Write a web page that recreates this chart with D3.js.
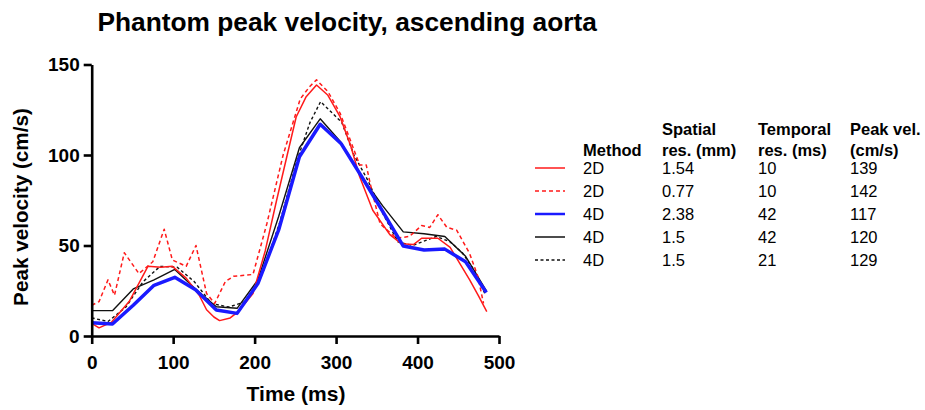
<!DOCTYPE html>
<html>
<head>
<meta charset="utf-8">
<script src="https://cdn.jsdelivr.net/npm/d3@7"></script>
<style>
  body { margin: 0; background: #fff; }
  svg { display: block; font-family: "Liberation Sans", Arial, sans-serif; }
</style>
</head>
<body>
<svg id="chart" width="925" height="410"></svg>
<script>
// Data (time in ms, peak velocity in cm/s)
const red2dTime = [0, 9, 24, 46, 69, 85, 99, 116, 132, 141, 150, 157, 170, 180, 198, 213, 227, 240, 251, 263, 276, 290, 305, 318, 329, 345, 366, 380, 395, 405, 425, 440, 452, 464, 475, 485];
const red2dVel  = [7, 4.5, 7.5, 19, 38.5, 38, 38.5, 32, 22.5, 14.5, 10.5, 8.5, 10, 13.5, 23.5, 47, 75, 100, 121, 132, 138.7, 133, 121, 105, 88, 69.5, 56, 51, 50.5, 54, 54, 49, 40, 31, 22, 13.5];

const red2dFineTime = [0, 9, 20, 28, 40, 58, 75, 89, 99, 116, 128, 141, 151, 164, 174, 198, 215, 235, 256, 268, 276, 290, 305, 329, 337, 342, 354, 374, 390, 405, 415, 425, 436, 448, 464, 474, 481];
const red2dFineVel  = [17, 19, 31, 22.5, 46, 34.5, 41, 59, 42, 38.5, 50, 23.5, 18, 30, 33, 34, 62, 100, 131, 138, 141.5, 135, 123, 94.5, 94.5, 84, 62, 54, 55, 61, 60, 67, 60, 58.5, 45.5, 33, 18];

const frames4d = [0, 25.5, 51, 76.5, 102, 127.5, 153, 178.5, 204, 229.5, 255, 280.5, 306, 331.5, 357, 382.5, 408, 433.5, 459, 484.5];
const blue4dVel  = [7.3, 6.6, 17, 28, 32.4, 25.5, 14.4, 12.5, 29, 58.6, 99, 117, 106.4, 88, 69, 49.7, 47.5, 48, 41, 24];
const black4dVel = [14, 14, 26, 31, 36.8, 26, 16.2, 15.3, 31, 66, 104, 120, 107, 88, 72, 57.5, 56.5, 55, 44, 25];

const black4dFineTime = [0, 20, 42, 63, 84, 105, 126, 147, 168, 189, 210, 231, 252, 268, 281, 307, 322, 339, 357, 376, 394, 423, 440, 455, 470, 483];
const black4dFineVel  = [10, 8, 16, 30, 38.5, 38, 30, 18, 16, 19, 35, 63, 97, 118, 129.5, 118, 100, 86, 68, 52, 50, 55, 52, 46, 36, 23];

const xTicks = [0, 100, 200, 300, 400, 500];
const yTicks = [0, 50, 100, 150];

const legendHeaders = [["Method"], ["Spatial", "res. (mm)"], ["Temporal", "res. (ms)"], ["Peak vel.", "(cm/s)"]];
const methods = ["2D", "2D", "4D", "4D", "4D"];
const spatialRes = ["1.54", "0.77", "2.38", "1.5", "1.5"];
const temporalRes = ["10", "10", "42", "42", "21"];
const peakVel = ["139", "142", "117", "120", "129"];

const series = [
  { t: red2dTime, v: red2dVel, color: "#ff1a1a", width: 1.5, dash: null },
  { t: red2dFineTime, v: red2dFineVel, color: "#ff1a1a", width: 1.5, dash: "4,3" },
  { t: frames4d, v: blue4dVel, color: "#1a1aff", width: 3.5, dash: null },
  { t: frames4d, v: black4dVel, color: "#111", width: 1.4, dash: null },
  { t: black4dFineTime, v: black4dFineVel, color: "#111", width: 1.4, dash: "3,2.5" }
];

const svg = d3.select("#chart");

const x = d3.scaleLinear().domain([0, 500]).range([91.7, 499]);
const y = d3.scaleLinear().domain([0, 150]).range([336, 64.5]);

// Title
svg.append("text")
  .attr("x", 97.5)
  .attr("y", 31)
  .attr("font-size", 26.3)
  .attr("font-weight", "bold")
  .text("Phantom peak velocity, ascending aorta");

// Lines (drawn first so axes sit on top)
const line = d3.line().x((d) => x(d[0])).y((d) => y(d[1]));
const plotOrder = [4, 3, 1, 0, 2];
plotOrder.forEach((i) => {
  const s = series[i];
  svg.append("path")
    .datum(s.t.map((t, k) => [t, s.v[k]]))
    .attr("fill", "none")
    .attr("stroke", s.color)
    .attr("stroke-width", s.width)
    .attr("stroke-dasharray", s.dash)
    .attr("stroke-linejoin", "round")
    .attr("d", line);
});

// Axes
const xAxis = svg.append("g")
  .attr("transform", `translate(0,${y(0)})`)
  .call(d3.axisBottom(x).tickValues(xTicks).tickSize(8).tickSizeOuter(0).tickPadding(12));

const yAxis = svg.append("g")
  .attr("transform", `translate(${x(0)},0)`)
  .call(d3.axisLeft(y).tickValues(yTicks).tickSize(8).tickSizeOuter(0).tickPadding(4));

[xAxis, yAxis].forEach((g) => {
  g.select(".domain").attr("stroke", "#000").attr("stroke-width", 2.6);
  g.selectAll(".tick line").attr("stroke", "#000").attr("stroke-width", 2.6);
  g.selectAll(".tick text")
    .attr("fill", "#000")
    .attr("font-size", 19)
    .attr("font-weight", "bold")
    .attr("font-family", "Liberation Sans, Arial, sans-serif");
});

// Axis titles
svg.append("text")
  .attr("x", 296)
  .attr("y", 401)
  .attr("text-anchor", "middle")
  .attr("font-size", 21)
  .attr("font-weight", "bold")
  .text("Time (ms)");

svg.append("text")
  .attr("transform", "translate(28,207) rotate(-90)")
  .attr("text-anchor", "middle")
  .attr("font-size", 20.7)
  .attr("font-weight", "bold")
  .text("Peak velocity (cm/s)");

// Legend table
const legend = svg.append("g");
const colX = [583, 662, 758, 850];
const rowY = [168, 191, 214, 237, 260];

legendHeaders.forEach((lines, c) => {
  lines.forEach((txt, k) => {
    legend.append("text")
      .attr("x", colX[c])
      .attr("y", 156 - (lines.length - 1 - k) * 21)
      .attr("font-size", 16.5)
      .attr("font-weight", "bold")
      .text(txt);
  });
});

const columns = [methods, spatialRes, temporalRes, peakVel];
rowY.forEach((ry, r) => {
  const s = series[r];
  legend.append("line")
    .attr("x1", 535)
    .attr("x2", 565)
    .attr("y1", ry)
    .attr("y2", ry)
    .attr("stroke", s.color)
    .attr("stroke-width", r === 2 ? 2.5 : 1.5)
    .attr("stroke-dasharray", s.dash);
  columns.forEach((col, c) => {
    legend.append("text")
      .attr("x", colX[c])
      .attr("y", ry)
      .attr("dy", "0.35em")
      .attr("font-size", 16.5)
      .text(col[r]);
  });
});
</script>
</body>
</html>
